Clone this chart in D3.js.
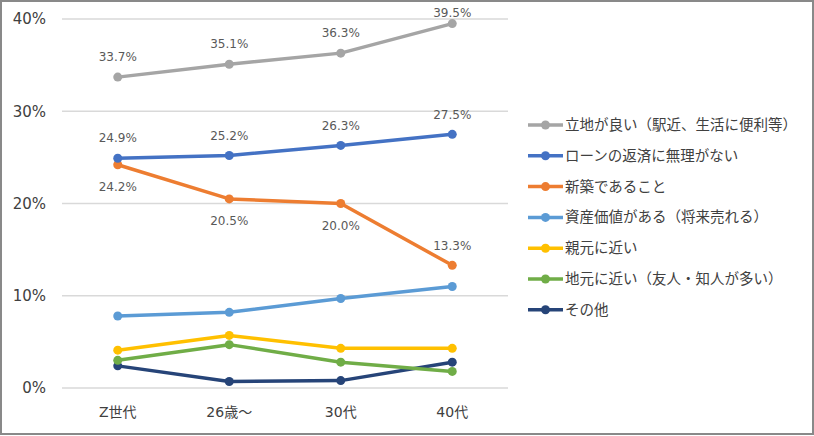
<!DOCTYPE html>
<html><head><meta charset="utf-8">
<script src="https://cdn.jsdelivr.net/npm/d3@7"></script>
<style>
body{margin:0;background:#fff;}
svg{display:block;}
text{font-family:"DejaVu Sans","Noto Sans CJK JP",sans-serif;}
</style></head>
<body><svg id="c" width="814" height="436"></svg>
<script>
const categories = ["Z世代", "26歳～", "30代", "40代"];
const seriesNames = ["立地が良い（駅近、生活に便利等）", "ローンの返済に無理がない", "新築であること", "資産価値がある（将来売れる）", "親元に近い", "地元に近い（友人・知人が多い）", "その他"];
const ritchi = [33.7, 35.1, 36.3, 39.5];
const loan = [24.9, 25.2, 26.3, 27.5];
const shinchiku = [24.2, 20.5, 20.0, 13.3];
const shisan = [7.8, 8.2, 9.7, 11.0];
const oyamoto = [4.1, 5.7, 4.3, 4.3];
const jimoto = [3.0, 4.7, 2.8, 1.8];
const sonota = [2.4, 0.7, 0.8, 2.8];
const yTicks = [0, 10, 20, 30, 40];
const colors = ["#A5A5A5", "#4472C4", "#ED7D31", "#5B9BD5", "#FFC000", "#70AD47", "#264478"];
// label placement: which series get data labels and where (1 = above, -1 = below)
const labelPos = [[1,1,1,1],[1,1,1,1],[-1,-1,-1,1],null,null,null,null];

const allSeries = [ritchi, loan, shinchiku, shisan, oyamoto, jimoto, sonota];

const svg = d3.select("#c");
svg.append("rect").attr("x",1).attr("y",1).attr("width",812).attr("height",433)
  .attr("fill","#fff").attr("stroke","#898989").attr("stroke-width",2);

const x = d3.scaleBand().domain(categories).range([62, 508]);
const y = d3.scaleLinear().domain([0, 40]).range([388, 19]);
const cx = d => x(d) + x.bandwidth()/2;

// gridlines
svg.append("g").selectAll("line").data(yTicks).join("line")
  .attr("x1",62).attr("x2",508).attr("y1",d=>y(d)).attr("y2",d=>y(d))
  .attr("stroke","#D9D9D9").attr("stroke-width",1.3);

// y axis labels
const yAxis = d3.axisLeft(y).tickValues(yTicks).tickFormat(d=>d+"%").tickSize(0).tickPadding(0);
const ga = svg.append("g").attr("transform","translate(46,0)").call(yAxis);
ga.select(".domain").remove();
ga.selectAll("text").attr("font-size",15).attr("fill","#404040")
  .style("font-family",'"DejaVu Sans","Noto Sans CJK JP",sans-serif');

// x axis labels
const xAxis = d3.axisBottom(x).tickSize(0).tickPadding(0);
const gx = svg.append("g").attr("transform","translate(0,408)").call(xAxis);
gx.select(".domain").remove();
gx.selectAll("text").attr("font-size",14).attr("fill","#404040").attr("dy","0.35em").attr("y",4)
  .style("font-family",'"DejaVu Sans","Noto Sans CJK JP",sans-serif');

const line = d3.line().x((d,i)=>cx(categories[i])).y(d=>y(d));

// draw series in reverse so first series on top
const order = d3.range(allSeries.length).reverse();
order.forEach(si => {
  const vals = allSeries[si];
  const g = svg.append("g");
  g.append("path").attr("d", line(vals)).attr("fill","none")
    .attr("stroke", colors[si]).attr("stroke-width",3.5).attr("stroke-linejoin","round");
  g.selectAll("circle").data(vals).join("circle")
    .attr("cx",(d,i)=>cx(categories[i])).attr("cy",d=>y(d)).attr("r",4.5)
    .attr("fill",colors[si]);
});

// data labels (kept inside the chart area, like the original)
allSeries.forEach((vals, si) => {
  const lp = labelPos[si];
  if (!lp) return;
  svg.append("g").selectAll("text").data(vals).join("text")
    .attr("x",(d,i)=>cx(categories[i]))
    .attr("y",(d,i)=>Math.max(13, y(d) + (lp[i] > 0 ? -20 : 22)))
    .attr("dy","0.35em").attr("text-anchor","middle")
    .attr("font-size",12).attr("fill","#595959")
    .text(d=>d.toFixed(1)+"%");
});

// legend
const lg = svg.append("g");
seriesNames.forEach((name, i) => {
  const yy = 125 + i*30.8;
  lg.append("line").attr("x1",528).attr("x2",563).attr("y1",yy).attr("y2",yy)
    .attr("stroke",colors[i]).attr("stroke-width",3.5);
  lg.append("circle").attr("cx",545.5).attr("cy",yy).attr("r",4.5).attr("fill",colors[i]);
  lg.append("text").attr("x",565).attr("y",yy).attr("dy","0.35em")
    .attr("font-size",14.5).attr("fill","#404040")
    .style("font-family",'"Noto Sans CJK JP",sans-serif').text(name);
});
</script></body></html>
